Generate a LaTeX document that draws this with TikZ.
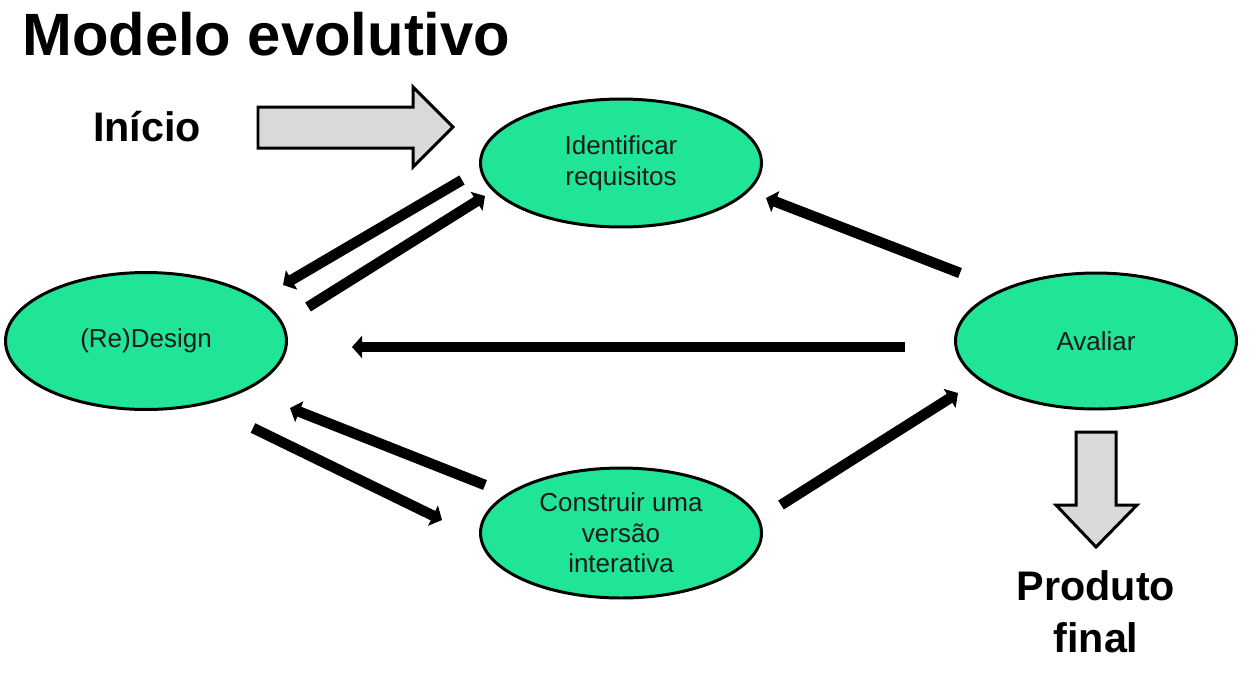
\documentclass[tikz,border=0pt]{standalone}
\usepackage{fontspec}
\setmainfont{Liberation Sans}
\usepackage{tikz}
\usetikzlibrary{arrows.meta, shapes.geometric, calc}
\definecolor{verdeetapa}{RGB}{32,228,150}
\definecolor{cinzaseta}{RGB}{217,217,217}
\definecolor{textoetapa}{RGB}{27,27,27}

\begin{document}
\begin{tikzpicture}[x=0.02cm, y=-0.02cm,
      etapa/.style={ellipse, draw=black, line width=1.7pt, fill=verdeetapa,
                    inner sep=0pt, minimum width=5.62cm, minimum height=2.56cm,
                    align=center, text=textoetapa,
                    font=\fontsize{14.8}{17.4}\selectfont},
      fluxo/.style={line width=6pt, -{Triangle[length=0.2cm, width=0.44cm]}},
      bloco/.style={draw=black, line width=1.7pt, fill=cinzaseta, line join=miter},
      rotulo/.style={font=\fontsize{23.5}{29.5}\selectfont\bfseries, align=center}]

    \useasboundingbox (0,0) rectangle (1256,684);

    % titulo
    \node[anchor=base west, inner sep=0pt, font=\fontsize{34}{40}\selectfont\bfseries]
      (titulo) at (22,55) {Modelo evolutivo};

    % etapas do ciclo
    \node[etapa] (req) at (621,163) {Identificar\\requisitos};
    \node[etapa, minimum height=2.74cm] (design) at (146,341) {(Re)Design};
    \node[etapa, minimum height=2.72cm] (aval) at (1096,341) {Avaliar};
    \node[etapa, minimum height=2.6cm] (constr) at (621,533) {Construir uma\\versão\\interativa};

    % inicio e fim
    \node[rotulo] (inicio) at (147,127) {Início};
    \node[rotulo] (produto) at (1096,612) {Produto\\final};

    \draw[bloco] (258,107) -- (413,107) -- (413,87) -- (453,127)
                 -- (413,167) -- (413,148) -- (258,148) -- cycle;
    \draw[bloco] (1076,432) -- (1116,432) -- (1116,505) -- (1137,505)
                 -- (1096,547) -- (1056,505) -- (1076,505) -- cycle;

    % setas entre as etapas
    \draw[fluxo] ([shift={(-159,17)}]req.center) -- ([shift={(137,-56)}]design.center);
    \draw[fluxo] ([shift={(162,-34)}]design.center) -- ([shift={(-136,33)}]req.center);
    \draw[fluxo] ([shift={(-136,-68)}]aval.center) -- ([shift={(145,35)}]req.center);
    \draw[fluxo] ([shift={(-191,6)}]aval.center) -- ([shift={(206,6)}]design.center);
    \draw[fluxo] ([shift={(-136,-48)}]constr.center) -- ([shift={(144,67)}]design.center);
    \draw[fluxo] ([shift={(107,87)}]design.center) -- ([shift={(-179,-13)}]constr.center);
    \draw[fluxo] ([shift={(160,-28)}]constr.center) -- ([shift={(-138,52)}]aval.center);
  \end{tikzpicture}
\end{document}
